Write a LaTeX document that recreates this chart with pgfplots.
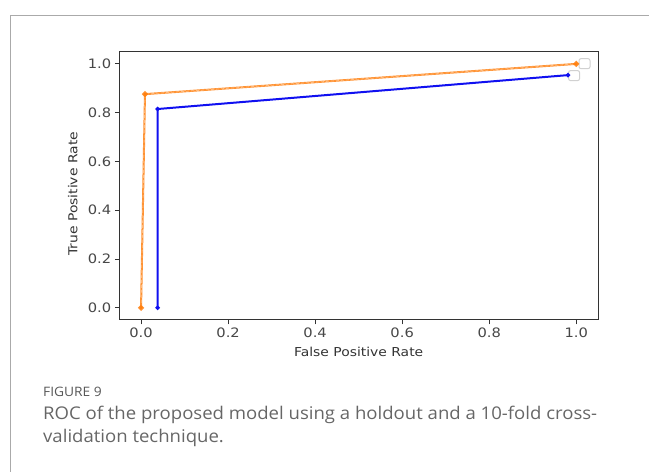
\documentclass[border=0pt]{standalone}
\usepackage{pgfplots}
\pgfplotsset{compat=1.18}
\usepackage{fontspec}
\newfontfamily\mplfont[FakeStretch=1.13]{DejaVu Sans}
\newfontfamily\capfont[FakeStretch=1.06]{Open Sans}
\definecolor{mplorange}{HTML}{FF7F0E}
\definecolor{mplblue}{HTML}{1010F0}
\definecolor{spine}{HTML}{333333}
\definecolor{framegray}{HTML}{AAAAAA}
\definecolor{capgray}{HTML}{666666}
\begin{document}
\begin{tikzpicture}
\useasboundingbox (0pt,0pt) rectangle (649pt,472pt);
% outer frame of the figure panel
\draw[framegray, line width=1pt] (10pt,0pt) -- (10pt,456.3pt) -- (649pt,456.3pt);
\begin{axis}[
  at={(119.3pt,152pt)}, anchor=south west,
  scale only axis, width=478.7pt, height=268.3pt,
  xmin=-0.05, xmax=1.05, ymin=-0.05, ymax=1.05,
  xtick={0,0.2,...,1.0}, ytick={0,0.2,...,1.0},
  xtick pos=bottom, ytick pos=left,
  xticklabel style={/pgf/number format/.cd, fixed, fixed zerofill, precision=1},
  yticklabel style={/pgf/number format/.cd, fixed, fixed zerofill, precision=1},
  /pgf/number format/assume math mode=true,
  tick align=outside, major tick length=4.5pt,
  tick style={spine, line width=0.9pt},
  axis line style={spine, line width=1pt},
  ticklabel style={font=\mplfont\fontsize{13}{15}\selectfont, text=spine!90},
  label style={font=\mplfont\fontsize{12.3}{14}\selectfont, text=spine},
  xlabel={False Positive Rate},
  ylabel={True Positive Rate},
  xlabel style={at={(axis description cs:0.5,-0.119)}, anchor=center},
  ylabel style={at={(axis description cs:-0.097,0.47)}, anchor=center, rotate=0},
  clip=false,
]
% 10-fold cross-validation curve (orange)
\addplot[mplorange, line width=2pt, opacity=0.85, mark=*, mark size=1.8pt] coordinates {
  (0.0,0.0) (0.009,0.876) (1.0,1.0)
};
\addplot[mplorange!55!white, line width=0.8pt, dash pattern=on 3pt off 2pt] coordinates {
  (0.0,0.0) (0.009,0.876) (1.0,1.0)
};
% holdout curve (blue)
\addplot[mplblue, line width=2pt, mark=*, mark size=1.1pt] coordinates {
  (0.038,0.0) (0.038,0.815) (0.981,0.954)
};
% empty annotation boxes at the curve ends
\node[draw=black!18, fill=white, rounded corners=2pt, minimum width=11pt, minimum height=10pt, line width=1pt, inner sep=0pt] at (axis cs:1.019,1.001) {};
\node[draw=black!18, fill=white, rounded corners=2pt, minimum width=11pt, minimum height=10pt, line width=1pt, inner sep=0pt] at (axis cs:0.995,0.952) {};
\end{axis}
% caption
\node[anchor=base west, inner sep=0pt, text=capgray!85!black, font=\capfont\fontsize{13}{14}\selectfont] at (43pt,75.3pt) {FIGURE 9};
\node[anchor=base west, inner sep=0pt, text=capgray, font=\capfont\fontsize{17.5}{20}\selectfont] at (43pt,52.7pt) {ROC of the proposed model using a holdout and a 10-fold cross-};
\node[anchor=base west, inner sep=0pt, text=capgray, font=\capfont\fontsize{17.5}{20}\selectfont] at (43pt,29pt) {validation technique.};
\end{tikzpicture}
\end{document}
